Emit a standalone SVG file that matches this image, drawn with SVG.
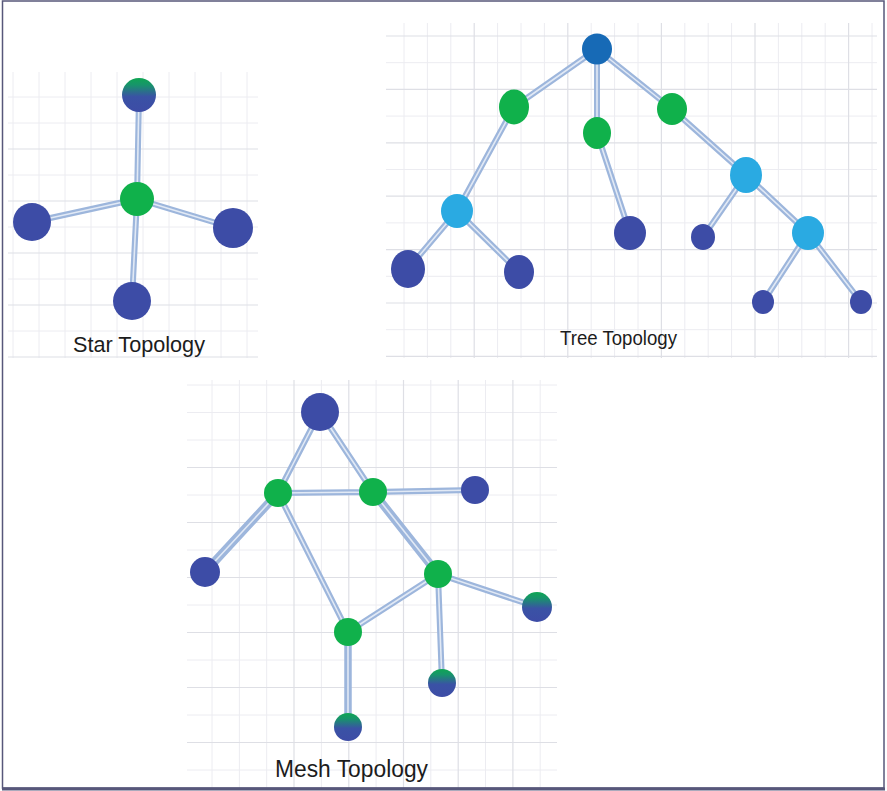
<svg xmlns="http://www.w3.org/2000/svg" width="887" height="791" viewBox="0 0 887 791">
<defs>
<linearGradient id="gb" x1="0" y1="0" x2="0" y2="1">
<stop offset="0" stop-color="#0fa653"/>
<stop offset="0.2" stop-color="#17956a"/>
<stop offset="0.55" stop-color="#3a52a5"/>
<stop offset="1" stop-color="#3d4ca6"/>
</linearGradient>
<style>
.minor{stroke:#ececf1;stroke-width:1;fill:none}
.major{stroke:#dedfe5;stroke-width:1.2;fill:none}
.e{stroke:#9db6dc;stroke-width:6;stroke-linecap:round;fill:none}
.eh{stroke:#e1e9f5;stroke-width:1.6;stroke-linecap:round;fill:none}
.dark{fill:#3d4ca6}
.green{fill:#10b14b}
.lblue{fill:#2aaae2}
.root{fill:#176ab6}
.grad{fill:url(#gb)}
.lbl{font-family:"Liberation Sans",Arial,sans-serif;fill:#1c1c1c;}
</style>
</defs>
<rect x="0" y="0" width="887" height="791" fill="#ffffff"/>

<!-- Star grid -->
<g id="star-grid">
<path class="minor" d="M13 72V358M39 72V358M65 72V358M91 72V358M117 72V358M143 72V358M169 72V358M195 72V358M221 72V358M247 72V358M8 97H258M8 123H258M8 175H258M8 227H258M8 279H258M8 331H258"/>
<path class="major" d="M8 149H258M8 201H258M8 253H258M8 305H258M8 357H258"/>
</g>

<!-- Tree grid -->
<g id="tree-grid">
<path class="minor" d="M404 23V358M427.4 23V358M450.8 23V358M497.6 23V358M521 23V358M544.4 23V358M591.2 23V358M614.6 23V358M638 23V358M684.8 23V358M708.2 23V358M731.6 23V358M778.4 23V358M801.8 23V358M825.2 23V358M872 23V358M386 62.7H877M386 116.1H877M386 169.5H877M386 222.9H877M386 276.3H877M386 329.7H877"/>
<path class="major" d="M474.2 23V358M567.8 23V358M661.4 23V358M755 23V358M848.6 23V358M386 36H877M386 89.4H877M386 142.8H877M386 196.2H877M386 249.6H877M386 303H877M386 356.4H877"/>
</g>

<!-- Mesh grid -->
<g id="mesh-grid">
<path class="minor" d="M212 380V789M239.4 380V789M266.7 380V789M321.4 380V789M376.1 380V789M430.8 380V789M485.5 380V789M540.2 380V789M187 385H557M187 412.5H557M187 440H557M187 495H557M187 550H557M187 605H557M187 660H557M187 715H557M187 770H557"/>
<path class="major" d="M294 380V789M348.8 380V789M403.5 380V789M458.2 380V789M512.9 380V789M187 467.5H557M187 522.5H557M187 577.5H557M187 632.5H557M187 687.5H557M187 742.5H557"/>
</g>

<!-- Frame -->
<rect x="2.5" y="1" width="881.5" height="787" fill="none" stroke="#57577a" stroke-width="1.5"/>
<line x1="2" y1="789" x2="885" y2="789" stroke="#57577a" stroke-width="3"/>

<!-- Connectors -->
<g id="connectors">
<!-- star -->
<path class="e" d="M139 95L137 199M137 199L32 222M137 199L233 228M137 199L132 301"/>
<path class="eh" d="M139 95L137 199M137 199L32 222M137 199L233 228M137 199L132 301"/>
<!-- tree -->
<path class="e" d="M597 49L514 107M597 49L597 133M597 49L672 109M514 107L457 211M597 133L630 233M672 109L746 175M457 211L408 269M457 211L519 272M746 175L703 237M746 175L808 233M808 233L763 302M808 233L861 302"/>
<path class="eh" d="M597 49L514 107M597 49L597 133M597 49L672 109M514 107L457 211M597 133L630 233M672 109L746 175M457 211L408 269M457 211L519 272M746 175L703 237M746 175L808 233M808 233L763 302M808 233L861 302"/>
<!-- mesh -->
<path class="e" d="M320 412L278 493M320 412L373 492M278 493L373 492M373 492L475 490M278 493L348 632M438 574L348 632M438 574L537 607M438 574L442 683"/>
<path class="e" style="stroke-width:8.5" d="M278 493L205 572M373 492L438 574"/>
<path class="e" style="stroke-width:7.5" d="M348 632L348 727"/>
<path class="eh" d="M320 412L278 493M320 412L373 492M278 493L373 492M373 492L475 490M278 493L348 632M438 574L348 632M438 574L537 607M438 574L442 683M278 493L205 572M373 492L438 574M348 632L348 727"/>
</g>

<!-- Star nodes -->
<g id="star-top"><circle class="grad" cx="139" cy="95" r="17"/></g>
<g id="star-center"><circle class="green" cx="137" cy="199" r="17"/></g>
<g id="star-left"><circle class="dark" cx="32" cy="222" r="19"/></g>
<g id="star-right"><circle class="dark" cx="233" cy="228" r="20"/></g>
<g id="star-bottom"><circle class="dark" cx="132" cy="301" r="19"/></g>
<g id="star-label"><text class="lbl" x="73" y="352" font-size="22" textLength="132" lengthAdjust="spacingAndGlyphs">Star Topology</text></g>

<!-- Tree nodes -->
<g id="tree-root"><ellipse class="root" cx="597" cy="49" rx="15" ry="15.5"/></g>
<g id="tree-g1"><ellipse class="green" cx="514" cy="107" rx="15" ry="17.5"/></g>
<g id="tree-g2"><ellipse class="green" cx="597" cy="133" rx="14" ry="16"/></g>
<g id="tree-g3"><ellipse class="green" cx="672" cy="109" rx="15" ry="16"/></g>
<g id="tree-lb1"><ellipse class="lblue" cx="457" cy="211" rx="16" ry="17"/></g>
<g id="tree-lb2"><ellipse class="lblue" cx="746" cy="175" rx="16" ry="18"/></g>
<g id="tree-lb3"><ellipse class="lblue" cx="808" cy="233" rx="16" ry="17"/></g>
<g id="tree-d1"><ellipse class="dark" cx="408" cy="269" rx="17" ry="19"/></g>
<g id="tree-d2"><ellipse class="dark" cx="519" cy="272" rx="15" ry="17"/></g>
<g id="tree-d3"><ellipse class="dark" cx="630" cy="233" rx="16" ry="17"/></g>
<g id="tree-d4"><ellipse class="dark" cx="703" cy="237" rx="12" ry="13"/></g>
<g id="tree-d5"><ellipse class="dark" cx="763" cy="302" rx="11" ry="12"/></g>
<g id="tree-d6"><ellipse class="dark" cx="861" cy="302" rx="11" ry="12"/></g>
<g id="tree-label"><text class="lbl" x="560" y="345" font-size="21" textLength="117" lengthAdjust="spacingAndGlyphs">Tree Topology</text></g>

<!-- Mesh nodes -->
<g id="mesh-top"><circle class="dark" cx="320" cy="412" r="19"/></g>
<g id="mesh-a"><circle class="green" cx="278" cy="493" r="14"/></g>
<g id="mesh-b"><circle class="green" cx="373" cy="492" r="14"/></g>
<g id="mesh-r1"><circle class="dark" cx="475" cy="490" r="14"/></g>
<g id="mesh-left"><circle class="dark" cx="205" cy="572" r="15"/></g>
<g id="mesh-c"><circle class="green" cx="438" cy="574" r="14"/></g>
<g id="mesh-d"><circle class="green" cx="348" cy="632" r="14"/></g>
<g id="mesh-gr"><circle class="grad" cx="537" cy="607" r="15"/></g>
<g id="mesh-gm"><circle class="grad" cx="442" cy="683" r="14"/></g>
<g id="mesh-gb"><circle class="grad" cx="348" cy="727" r="14"/></g>
<g id="mesh-label"><text class="lbl" x="275" y="777" font-size="23" textLength="153" lengthAdjust="spacingAndGlyphs">Mesh Topology</text></g>
</svg>
